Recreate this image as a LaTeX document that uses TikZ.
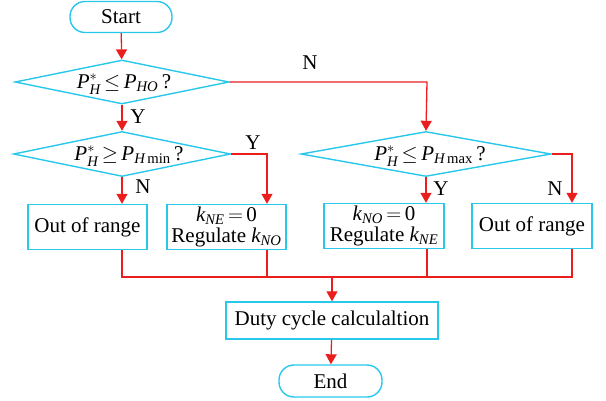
\documentclass[tikz,border=0pt]{standalone}
\usepackage{amsmath}
\usepackage{fontspec}
\setmainfont{Liberation Serif}
\usetikzlibrary{arrows.meta,shapes.geometric,calc}
\definecolor{bcyan}{RGB}{40,200,235}
\definecolor{lred}{RGB}{235,30,30}
\newcommand{\vi}[1]{\textit{#1}}
\thickmuskip=3mu plus 1mu
\begin{document}
\begin{tikzpicture}[x=1pt,y=-1pt,
  every node/.style={font=\fontsize{21}{21}\selectfont},
  term/.style={draw=bcyan,line width=1.4pt,rounded corners=15pt,inner sep=0pt},
  proc/.style={draw=bcyan,line width=1.4pt,inner sep=0pt},
  dec/.style={draw=bcyan,line width=1.4pt,diamond,inner sep=0pt},
  conn/.style={draw=lred,line width=1.3pt},
  arr/.style={conn,-{Triangle[width=11pt,length=10pt]}},
  lab/.style={inner sep=0pt}]
\useasboundingbox (0,0) rectangle (606,400);
\node[term,minimum width=102pt,minimum height=31pt] (start) at (121,17) {Start};
\node[dec,minimum width=214pt,minimum height=44pt] (d1) at (122,82) {};
\node[lab] (d1t) at (124,84) {$\thickmuskip=3mu\vi{P}_{\vi{H}}^{*}\le \vi{P}_{\vi{HO}}$\,?};
\node[dec,minimum width=217pt,minimum height=45pt] (d2) at (122,154) {};
\node[lab] (d2t) at (129,156) {$\thickmuskip=3mu\vi{P}_{\vi{H}}^{*}\ge \vi{P}_{\vi{H}\,\text{min}}$\,?};
\node[dec,minimum width=250pt,minimum height=45pt] (d3) at (426,154) {};
\node[lab] (d3t) at (430,156) {$\thickmuskip=3mu\vi{P}_{\vi{H}}^{*}\le \vi{P}_{\vi{H}\,\text{max}}$\,?};
\node[proc,minimum width=119pt,minimum height=45pt] (b1) at (87.5,227) {Out of range};
\node[proc,minimum width=119pt,minimum height=45pt,align=center] (b2) at (226.5,227) {$\vi{k}_{\vi{NE}}=\text{0}$\\Regulate $\vi{k}_{\vi{NO}}$};
\node[proc,minimum width=120pt,minimum height=45pt,align=center] (b3) at (384,226) {$\vi{k}_{\vi{NO}}=\text{0}$\\Regulate $\vi{k}_{\vi{NE}}$};
\node[proc,minimum width=120pt,minimum height=45pt] (b4) at (532,226) {Out of range};
\node[proc,minimum width=212pt,minimum height=37pt] (duty) at (332,320.5) {Duty cycle calculaltion};
\node[term,minimum width=103pt,minimum height=32pt] (end) at (330.5,381) {End};
% coordinates
\coordinate (c1) at (427,82);
\coordinate (c2) at (267,154);
\coordinate (c3) at (572,154);
\coordinate (m1) at (122,277);
\coordinate (m2) at (267,277);
\coordinate (m3) at (427,277);
\coordinate (m4) at (572,277);
\coordinate (mm) at (332,277);
% connectors
\draw[arr] (start) -- (d1);
\draw[arr] (d1) -- (d2);
\draw[arr] (d1.east) -- (c1) -- (d3.north);
\draw[arr] (d2.south) -- (d2.south |- b1.north);
\draw[arr] (d2.east) -- (c2) -- (c2 |- b2.north);
\draw[arr] (d3.south) -- (d3.south |- b3.north);
\draw[arr] (d3.east) -- (c3) -- (c3 |- b4.north);
\draw[conn] (m1 |- b1.south) -- (m1) -- (m4) -- (m4 |- b4.south);
\draw[conn] (m2 |- b2.south) -- (m2);
\draw[conn] (m3 |- b3.south) -- (m3);
\draw[arr] (mm) -- (duty);
\draw[arr] (duty) -- (end);
% labels
\node[lab] (lN1) at (310,63) {N};
\node[lab] (lY1) at (138,117) {Y};
\node[lab] (lY2) at (253,143) {Y};
\node[lab] (lN2) at (143,187) {N};
\node[lab] (lY3) at (441,189) {Y};
\node[lab] (lN3) at (555,189) {N};
\end{tikzpicture}
\end{document}
